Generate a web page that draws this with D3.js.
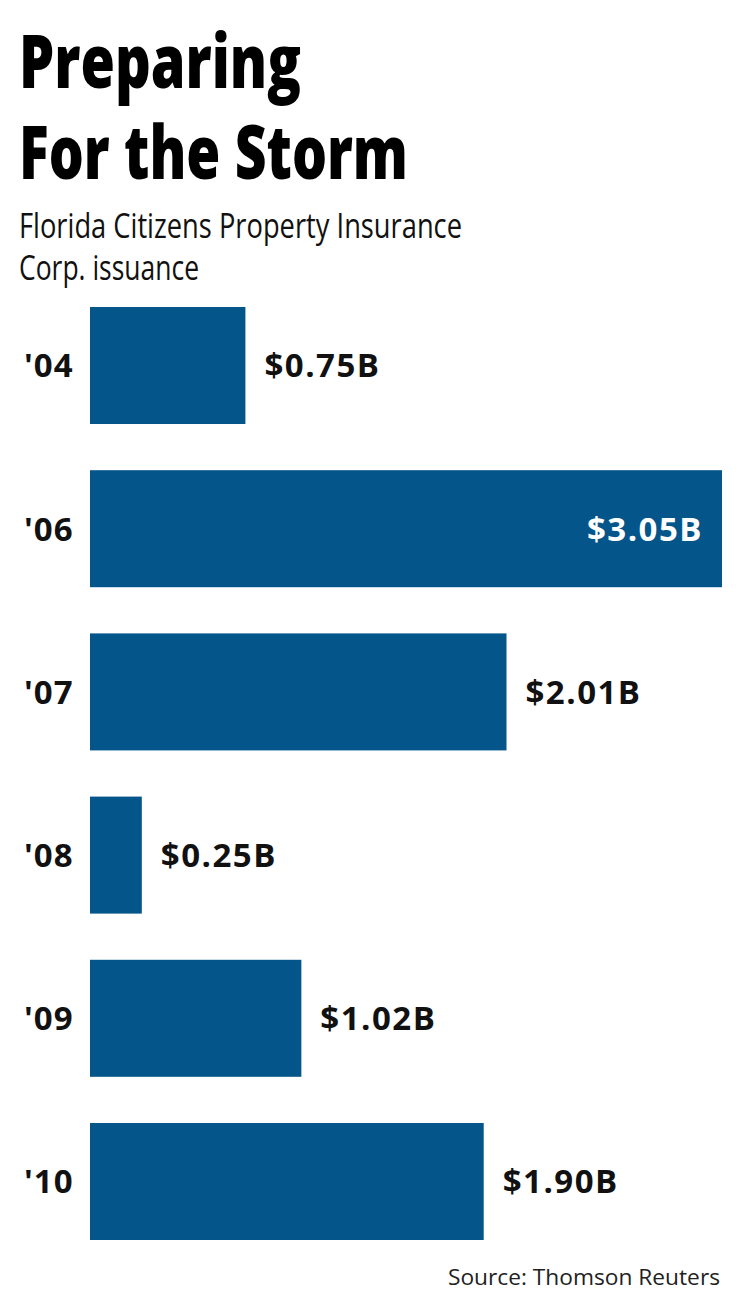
<!DOCTYPE html>
<html><head><meta charset="utf-8">
<script src="https://cdn.jsdelivr.net/npm/d3@7"></script>
<style>html,body{margin:0;padding:0;background:#fff;}svg{display:block;}</style>
</head><body>
<svg id="chart" width="740" height="1315"></svg>
<script>
const categories = ["'04", "'06", "'07", "'08", "'09", "'10"];
const values = [0.75, 3.05, 2.01, 0.25, 1.02, 1.90];
const valueLabels = ["$0.75B", "$3.05B", "$2.01B", "$0.25B", "$1.02B", "$1.90B"];
const titleLines = ["Preparing", "For the Storm"];
const subtitleLines = ["Florida Citizens Property Insurance", "Corp. issuance"];
const sourceText = "Source: Thomson Reuters";

const svg = d3.select("#chart");
const font = "'Open Sans', 'Noto Sans', sans-serif";
const barColor = "#04558a";

const x = d3.scaleLinear().domain([0, d3.max(values)]).range([90, 722]);
const y = d3.scaleBand().domain(categories).range([307, 1240]).paddingInner(0.283).paddingOuter(0);

// Title
const titleBase = [88, 179];
const titleWidths = [282, 389];
titleLines.forEach((t, i) => {
  svg.append("text").attr("x", 19).attr("y", titleBase[i])
    .attr("font-family", font).attr("font-weight", 800).attr("font-size", 74)
    .attr("textLength", titleWidths[i]).attr("lengthAdjust", "spacingAndGlyphs")
    .attr("fill", "#000").text(t);
});
const subBase = [238, 280];
const subWidths = [443, 180];
subtitleLines.forEach((t, i) => {
  svg.append("text").attr("x", 19).attr("y", subBase[i])
    .attr("font-family", font).attr("font-weight", 400).attr("font-size", 34)
    .attr("textLength", subWidths[i]).attr("lengthAdjust", "spacingAndGlyphs")
    .attr("fill", "#111").text(t);
});

const data = categories.map((c, i) => ({c, v: values[i], label: valueLabels[i]}));
const maxV = d3.max(values);

svg.selectAll("rect.bar").data(data).join("rect").attr("class", "bar")
  .attr("x", x(0)).attr("y", d => y(d.c))
  .attr("width", d => x(d.v) - x(0)).attr("height", y.bandwidth())
  .attr("fill", barColor);

svg.selectAll("text.cat").data(data).join("text").attr("class", "cat")
  .attr("x", 24).attr("y", d => y(d.c) + y.bandwidth() / 2)
  .attr("dy", "0.36em")
  .attr("font-family", font).attr("font-weight", 700).attr("font-size", 33)
  .attr("letter-spacing", 1)
  .attr("fill", "#111").text(d => d.c);

svg.selectAll("text.val").data(data).join("text").attr("class", "val")
  .attr("x", d => d.v === maxV ? x(d.v) - 19 : x(d.v) + 19)
  .attr("y", d => y(d.c) + y.bandwidth() / 2)
  .attr("dy", "0.36em")
  .attr("text-anchor", d => d.v === maxV ? "end" : "start")
  .attr("font-family", font).attr("font-weight", 700).attr("font-size", 33)
  .attr("letter-spacing", 1.5)
  .attr("fill", d => d.v === maxV ? "#fff" : "#111").text(d => d.label);

svg.append("text").attr("x", 720).attr("y", 1285).attr("text-anchor", "end")
  .attr("font-family", font).attr("font-size", 22).attr("fill", "#222")
  .attr("textLength", 272).attr("lengthAdjust", "spacingAndGlyphs")
  .text(sourceText);
</script>
</body></html>
